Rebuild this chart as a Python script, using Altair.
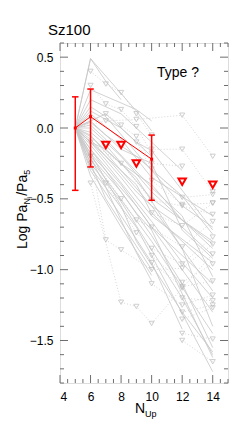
import altair as alt
import pandas as pd

# ---------------- data ----------------
solid_lines = [
    [(5, 0), (6, 0.49), (9, 0.12), (10, -0.02)],
    [(5, 0), (6, 0.49), (7, 0.33), (8, 0.20)],
    [(5, 0), (6, 0.27), (9, 0.13), (10, 0.05)],
    [(5, 0), (6, 0.20), (8, 0.10), (10, -0.10), (12, -0.30)],
    [(5, 0), (6, 0.15), (7, 0.08), (10, -0.30), (12, -0.55), (14, -0.70)],
    [(5, 0), (6, 0.10), (8, -0.08), (10, -0.35), (14, -0.62)],
    [(5, 0), (6, 0.04), (7, -0.05), (9, -0.20), (12, -0.48), (14, -0.75)],
    [(5, 0), (6, 0.00), (8, -0.20), (10, -0.45), (14, -0.85)],
    [(5, 0), (6, -0.03), (7, -0.12), (10, -0.50), (14, -0.80)],
    [(5, 0), (6, -0.05), (8, -0.30), (10, -0.55), (12, -0.70), (14, -0.90)],
    [(5, 0), (6, -0.08), (7, -0.20), (9, -0.40), (10, -0.60), (14, -1.00)],
    [(5, 0), (6, -0.10), (8, -0.35), (10, -0.62), (14, -0.95)],
    [(5, 0), (6, -0.12), (7, -0.25), (10, -0.66), (12, -0.95), (14, -1.20)],
    [(5, 0), (6, -0.15), (8, -0.40), (10, -0.70), (14, -1.10)],
    [(5, 0), (6, -0.18), (7, -0.30), (9, -0.55), (12, -1.00), (14, -1.30)],
    [(5, 0), (6, -0.20), (8, -0.45), (10, -0.76), (12, -1.10), (14, -1.55)],
    [(5, 0), (6, -0.22), (7, -0.36), (10, -0.80), (14, -1.45)],
    [(5, 0), (6, -0.25), (8, -0.52), (10, -0.86), (12, -1.20), (14, -1.60)],
    [(5, 0), (6, -0.28), (7, -0.42), (9, -0.70), (10, -0.90), (14, -1.72)],
    [(5, 0), (7, -0.42), (9, -0.88), (10, -1.08)],
    [(5, 0), (6, -0.30), (8, -0.62), (10, -0.95), (12, -1.42)],
    [(5, 0), (6, -0.10), (7, -0.15), (8, -0.25), (10, -0.40), (12, -0.65), (14, -0.82)],
    [(5, 0), (7, -0.20), (9, -0.45), (10, -0.55), (14, -1.15)],
    [(5, 0), (6, -0.06), (9, -0.35), (12, -0.85), (14, -1.40)],
    [(5, 0), (6, 0.05), (8, -0.15), (10, -0.25), (12, -0.72), (14, -0.92)],
    [(5, 0), (6, -0.15), (9, -0.60), (10, -0.72), (14, -1.62)],
    [(5, 0), (7, 0.10), (9, -0.10), (10, -0.16), (14, -0.72)],
    [(5, 0), (6, 0.12), (8, 0.00), (10, -0.20)],
    [(5, 0), (6, -0.25), (7, -0.50), (10, -1.00)],
    [(5, 0), (6, -0.34), (8, -0.70), (10, -1.04)],
    [(5, 0), (6, -0.18), (8, -0.55), (9, -0.80), (12, -1.30), (14, -1.58)],
    [(5, 0), (6, 0.02), (7, -0.08), (10, -0.42), (12, -0.62), (14, -1.05)],
]

dotted_lines = [
    [(6, 0.40), (7, 0.31), (8, 0.25), (9, 0.10), (10, -0.05)],
    [(6, 0.30), (7, 0.17), (8, 0.13), (9, 0.01), (10, -0.18)],
    [(5, 0), (7, 0.10), (8, 0.02), (9, -0.06), (10, -0.25), (12, -0.27)],
    [(5, 0), (7, 0.05), (9, 0.06), (12, 0.09), (14, -0.20)],
    [(10, -0.15), (12, -0.15), (14, -0.45)],
    [(9, -0.10), (10, -0.29), (12, -0.49), (14, -0.47)],
    [(10, -0.37), (12, -0.54), (14, -0.53)],
    [(5, 0), (6, -0.10), (8, -0.25), (10, -0.51), (12, -0.55), (14, -0.61)],
    [(6, -0.20), (8, -0.50), (9, -0.65), (10, -0.70), (12, -0.84), (14, -0.66)],
    [(6, -0.25), (7, -0.39), (9, -0.74), (10, -0.85), (12, -0.96), (14, -0.77)],
    [(5, 0), (6, -0.20), (7, -0.79), (8, -0.86), (10, -1.00), (12, -0.99), (14, -0.82)],
    [(6, -0.39), (8, -1.23), (9, -1.26), (10, -1.38), (12, -1.13), (14, -0.89)],
    [(10, -0.90), (12, -1.09), (14, -0.96)],
    [(10, -0.95), (12, -1.12), (14, -1.08)],
    [(10, -1.10), (12, -1.25), (14, -1.18)],
    [(12, -1.20), (14, -1.22)],
    [(12, -1.30), (14, -1.25)],
    [(12, -1.35), (14, -1.27)],
    [(12, -1.45), (14, -1.49)],
    [(12, -1.50), (14, -1.65)],
    [(10, -0.60), (12, -0.69), (14, -0.53)],
]

red_x = [5, 6, 10]
red_y = [0.0, 0.08, -0.22]
red_lo = [-0.44, -0.275, -0.51]
red_hi = [0.22, 0.275, -0.05]
red_tri_x = [7, 8, 9, 12, 14]
red_tri_y = [-0.12, -0.12, -0.25, -0.38, -0.40]

x_major = [4, 6, 8, 10, 12, 14]
y_major = [-1.5, -1.0, -0.5, 0.0, 0.5]

# ---------------- layout ----------------
W, H = 168, 340
FONT = "Liberation Sans"
GRAY = "#c6c6c6"
RED = "#ff0000"

xscale = alt.Scale(domain=[4, 15], nice=False, zero=False)
yscale = alt.Scale(domain=[-1.8, 0.6], nice=False, zero=False)
xaxis = alt.Axis(values=x_major, format="d", title=None, ticks=False, domain=False,
                 grid=False, labelFont=FONT, labelFontSize=12, labelColor="black",
                 labelPadding=8)
yaxis = alt.Axis(values=y_major, format=".1f", title=None, ticks=False, domain=False,
                 grid=False, labelFont=FONT, labelFontSize=12, labelColor="black",
                 labelPadding=7)


def X(f="x"):
    return alt.X(f"{f}:Q", scale=xscale, axis=xaxis)


def Y(f="y"):
    return alt.Y(f"{f}:Q", scale=yscale, axis=yaxis)


def lines_df(lines):
    rows = []
    for i, ln in enumerate(lines):
        for j, (x, y) in enumerate(ln):
            rows.append({"id": i, "o": j, "x": x, "y": y})
    return pd.DataFrame(rows)


solid_df = lines_df(solid_lines)
dotted_df = lines_df(dotted_lines)
tri_df = dotted_df[dotted_df["x"] != 5]

solid = alt.Chart(solid_df).mark_line(color=GRAY, strokeWidth=0.8).encode(
    x=X(), y=Y(), detail="id:N", order="o:Q")
dotted = alt.Chart(dotted_df).mark_line(color="#cccccc", strokeWidth=0.8,
                                        strokeDash=[1, 2]).encode(
    x=X(), y=Y(), detail="id:N", order="o:Q")
gtri = alt.Chart(tri_df).mark_point(shape="triangle-down", size=26, filled=False,
                                    color="#b4b4b4", strokeWidth=0.9).encode(x=X(), y=Y())

red_df = pd.DataFrame({"x": red_x, "y": red_y, "lo": red_lo, "hi": red_hi})
rline = alt.Chart(red_df).mark_line(color=RED, strokeWidth=1).encode(x=X(), y=Y())
rerr = alt.Chart(red_df).mark_rule(color=RED, strokeWidth=1.5).encode(
    x=X(), y=Y("lo"), y2="hi:Q")
cap = "M-1,0L1,0"
rcap_lo = alt.Chart(red_df).mark_point(shape=cap, size=42, color=RED, strokeWidth=1.5,
                                       opacity=1).encode(x=X(), y=Y("lo"))
rcap_hi = alt.Chart(red_df).mark_point(shape=cap, size=42, color=RED, strokeWidth=1.5,
                                       opacity=1).encode(x=X(), y=Y("hi"))
rdot = alt.Chart(red_df).mark_point(shape="square", size=9, filled=True, color=RED,
                                    opacity=1).encode(x=X(), y=Y())
rtri_df = pd.DataFrame({"x": red_tri_x, "y": red_tri_y})
rtri = alt.Chart(rtri_df).mark_point(shape="triangle-down", size=55, filled=False,
                                     color=RED, strokeWidth=2, opacity=1).encode(x=X(), y=Y())


# inward ticks on all four sides
def frange(a, b, s):
    out = []
    v = a
    while v <= b + 1e-9:
        out.append(round(v, 3))
        v += s
    return out


y_minor = [v for v in frange(-1.8, 0.6, 0.1) if all(abs(v - m) > 1e-6 for m in y_major)]
x_minor = [v for v in frange(4, 15, 0.5) if all(abs(v - m) > 1e-6 for m in x_major)]
TICK = "#6e6e6e"
tick_layers = []
for vals, ln in ((y_major, 8), (y_minor, 4)):
    d = pd.DataFrame({"y": vals})
    tick_layers.append(alt.Chart(d).mark_rule(color=TICK, strokeWidth=1).encode(
        y=Y(), x=alt.value(0), x2=alt.value(ln)))
    tick_layers.append(alt.Chart(d).mark_rule(color=TICK, strokeWidth=1).encode(
        y=Y(), x=alt.value(W), x2=alt.value(W - ln)))
for vals, ln in ((x_major, 8), (x_minor, 4)):
    d = pd.DataFrame({"x": vals})
    tick_layers.append(alt.Chart(d).mark_rule(color=TICK, strokeWidth=1).encode(
        x=X(), y=alt.value(H), y2=alt.value(H - ln)))
    tick_layers.append(alt.Chart(d).mark_rule(color=TICK, strokeWidth=1).encode(
        x=X(), y=alt.value(0), y2=alt.value(ln)))

one = pd.DataFrame({"a": [0]})


def label(text, x, y, size, angle=0, align="left"):
    return alt.Chart(one).mark_text(text=text, font=FONT, fontSize=size, color="black",
                                    align=align, baseline="alphabetic", angle=angle).encode(
        x=alt.value(x), y=alt.value(y))


texts = [
    label("Sz100", -12, -8, 15),
    label("Type ?", 97, 34, 14),
    label("N", 75, 370, 14),
    label("Up", 85, 374, 9),
]
# rotated y title: Log Pa_{N_i}/Pa_5
y0 = 206
texts.append(label("Log Pa", -33, y0, 14, angle=270))
y1 = y0 - 44.4
texts.append(label("N", -30, y1, 9, angle=270))
y2 = y1 - 6.6
texts.append(label("i", -28, y2, 7, angle=270))
y3 = y2 - 2.2
texts.append(label("/Pa", -33, y3, 14, angle=270))
y4 = y3 - 21.0
texts.append(label("5", -30, y4, 9, angle=270))

chart = alt.layer(
    solid, dotted, gtri, *tick_layers, rline, rerr, rcap_lo, rcap_hi, rdot, rtri, *texts
).properties(
    width=W, height=H,
    padding={"left": 52, "top": 35, "right": 4, "bottom": 37},
    autosize="none",
).configure_view(stroke="#6e6e6e", strokeWidth=1).configure(background="white")

chart.save("out.html", embed_options={"renderer": "svg", "actions": False})
